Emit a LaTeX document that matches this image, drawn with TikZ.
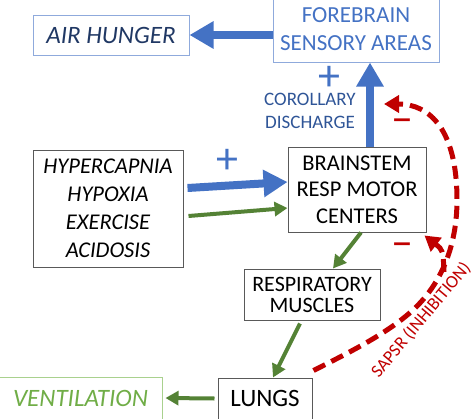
\documentclass[tikz,border=0pt]{standalone}
\usepackage{fontspec}
\setmainfont{Carlito}
\usetikzlibrary{arrows.meta,calc}
\definecolor{bblue}{HTML}{4472C4}
\definecolor{dblue}{HTML}{2F5597}
\definecolor{navy}{HTML}{203864}
\definecolor{lblue}{HTML}{8FAADC}
\definecolor{agreen}{HTML}{548235}
\definecolor{tgreen}{HTML}{70AD47}
\definecolor{lgreen}{HTML}{A9D18E}
\definecolor{sred}{HTML}{C00000}
\definecolor{bgray}{HTML}{595959}
\begin{document}
\begin{tikzpicture}[x=1pt,y=-1pt,
  box/.style={draw=bgray, line width=1pt, align=center, inner sep=0pt},
  bluearrow/.style={draw=bblue, line width=8pt, -{Triangle[width=26pt,length=24pt]}},
  greenarrow/.style={draw=agreen, line width=4pt, -{Triangle[width=14pt,length=13pt]}},
  redarrow/.style={draw=sred, line width=5pt, dash pattern=on 13pt off 7pt, -{Triangle[width=17pt,length=15pt]}},
  sign/.style={inner sep=0pt, font=\fontsize{44}{44}\selectfont}
]
\useasboundingbox (0,0) rectangle (474,418);

% boxes
\node[box, draw=lblue, text=navy, minimum width=156pt, minimum height=40pt,
      font=\fontsize{25}{28}\selectfont\itshape] (airhunger) at (111,35) {AIR HUNGER};
\node[box, draw=lblue, text=bblue, minimum width=166pt, minimum height=65pt,
      font=\fontsize{23}{28}\selectfont] (forebrain) at (356,29.5) {FOREBRAIN\\SENSORY AREAS};
\node[box, minimum width=150pt, minimum height=117pt,
      font=\fontsize{22.5}{28}\selectfont\itshape] (stimuli) at (108,208.5) {HYPERCAPNIA\\HYPOXIA\\EXERCISE\\ACIDOSIS};
\node[box, minimum width=138pt, minimum height=85pt,
      font=\fontsize{22.5}{26.5}\selectfont] (brainstem) at (357,189.5) {BRAINSTEM\\RESP MOTOR\\CENTERS};
\node[box, minimum width=136pt, minimum height=51pt,
      font=\fontsize{22}{21}\selectfont] (resp) at (312,294.5) {RESPIRATORY\\MUSCLES};
\node[box, minimum width=94pt, minimum height=41pt,
      font=\fontsize{25}{28}\selectfont] (lungs) at (265,398.5) {LUNGS};
\node[box, draw=lgreen, text=tgreen, minimum width=163pt, minimum height=42pt,
      font=\fontsize{25}{28}\selectfont\itshape] (vent) at (80.5,398) {VENTILATION};

% labels
\node[align=center, text=dblue, inner sep=0pt, font=\fontsize{19}{23}\selectfont] (corollary) at (310,110.5) {COROLLARY\\DISCHARGE};
\node[sign, text=bblue] (plusA) at (329,78) {+};
\node[sign, text=bblue] (plusB) at (227,161) {+};
\node[sign, text=sred] (minusA) at (402,126) {–};
\node[sign, text=sred] (minusB) at (402,250) {–};
\node[text=sred, inner sep=0pt, rotate=50, font=\fontsize{18}{19}\selectfont] (sapsr) at (421,320) {SAPSR (INHIBITION)};

% blue arrows
\draw[bluearrow] (forebrain.west |- airhunger.east) -- (airhunger.east);
\draw[bluearrow] ([xshift=13pt]brainstem.north) -- ([xshift=14pt]forebrain.south);
\draw[bluearrow] ([xshift=4pt,yshift=20.5pt]stimuli.east) -- ([yshift=7.5pt]brainstem.west);

% green arrows
\draw[greenarrow] ([xshift=5pt,yshift=-7.5pt]stimuli.east) -- ([yshift=-18.5pt]brainstem.west);
\draw[greenarrow] ([xshift=4pt]brainstem.south) -- ([xshift=21pt]resp.north);
\draw[greenarrow] ([xshift=-12pt,yshift=-3pt]resp.south) -- ([xshift=8pt]lungs.north);
\draw[greenarrow] ([xshift=-3pt]lungs.west) -- ([xshift=3pt]vent.east);

% red inhibition
\coordinate (cd) at (384,104);
\coordinate (br) at (444,272);
\draw[redarrow] ([xshift=1pt,yshift=7pt]lungs.north east) .. controls (350,352) and (395,330) .. (420,303)
   .. controls (445,276) and (457,240) .. (457,200)
   .. controls (457,130) and (430,104) .. (cd);
\draw[redarrow] (br) .. controls (443,250) .. ([xshift=-2pt,yshift=-3pt]brainstem.south east);
\end{tikzpicture}
\end{document}
